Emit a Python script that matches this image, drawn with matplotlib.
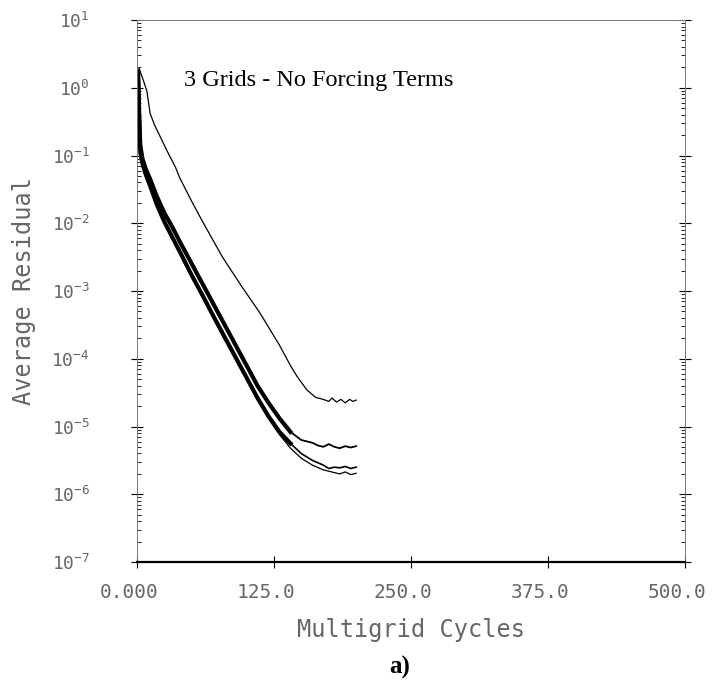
import numpy as np
import matplotlib.pyplot as plt
import matplotlib.transforms as mtransforms

plt.rcParams['mathtext.default'] = 'regular'

# cycles / log10(residual)
top_cycles = [2, 6, 9, 12, 16, 22, 28, 35, 39, 50, 60, 78, 95, 112, 130, 140, 146, 155, 163,
              170, 175, 178, 182, 186, 190, 194, 197, 200]
top_log10 = [0.28, 0.1, -0.05, -0.38, -0.55, -0.75, -0.95, -1.17, -1.33, -1.68, -1.98, -2.5,
             -2.92, -3.32, -3.8, -4.1, -4.26, -4.46, -4.57,
             -4.6, -4.63, -4.58, -4.64, -4.6, -4.65, -4.6, -4.63, -4.61]

b_cycles = [1, 2, 3, 5, 8, 12, 18, 25, 32, 40, 50, 60, 70, 80, 90, 100, 110, 120, 130, 140,
            150, 160, 165, 170, 175, 180, 185, 190, 195, 200]
b_log10 = [0.25, -0.4, -0.85, -1.05, -1.2, -1.35, -1.6, -1.85, -2.05, -2.3, -2.6, -2.9, -3.2,
           -3.5, -3.8, -4.1, -4.4, -4.65, -4.88, -5.08,
           -5.2, -5.24, -5.28, -5.3, -5.26, -5.3, -5.32, -5.29, -5.31, -5.29]

c_cycles = [1, 2, 3, 5, 8, 12, 18, 25, 32, 40, 50, 60, 70, 80, 90, 100, 110, 120, 130, 140,
            150, 160, 170, 175, 180, 185, 190, 195, 200]
c_log10 = [0.1, -0.5, -0.95, -1.12, -1.28, -1.45, -1.72, -1.98, -2.2, -2.45, -2.77, -3.07,
           -3.38, -3.68, -3.98, -4.28, -4.58, -4.85, -5.08, -5.25,
           -5.4, -5.5, -5.57, -5.62, -5.6, -5.61, -5.59, -5.62, -5.6]

d_cycles = [2, 4, 8, 15, 25, 40, 60, 80, 100, 120, 130, 140, 150, 160, 170, 180, 185, 190,
            195, 200]
d_log10 = [-0.6, -1.0, -1.3, -1.6, -2.0, -2.47, -3.1, -3.72, -4.3, -4.88, -5.12, -5.32,
           -5.47, -5.57, -5.64, -5.68, -5.7, -5.67, -5.71, -5.69]

y_ticks = [1e1, 1e0, 1e-1, 1e-2, 1e-3, 1e-4, 1e-5, 1e-6, 1e-7]
y_tick_labels = [r'$10^{1}$', r'$10^{0}$', r'$10^{-1}$', r'$10^{-2}$', r'$10^{-3}$',
                 r'$10^{-4}$', r'$10^{-5}$', r'$10^{-6}$', r'$10^{-7}$']
x_ticks = [0, 125, 250, 375, 500]
x_tick_labels = ['0.000', '125.0', '250.0', '375.0', '500.0']

plot_font = 'DejaVu Sans Mono'
grey = '#666666'

fig = plt.figure(figsize=(7.13, 6.87), dpi=100)
ax = fig.add_axes([137 / 713, 1 - 562 / 687, 548 / 713, 542 / 687])

# descent part drawn heavy (oscillating band), flat tail thin
split = 19
ax.plot(top_cycles, 10 ** np.array(top_log10), color='black', lw=0.9)
ax.plot(b_cycles[:split + 1], 10 ** np.array(b_log10[:split + 1]), color='black', lw=3.0)
ax.plot(b_cycles[split:], 10 ** np.array(b_log10[split:]), color='black', lw=1.3)
ax.plot(c_cycles[:split + 1], 10 ** np.array(c_log10[:split + 1]), color='black', lw=3.0)
ax.plot(c_cycles[split:], 10 ** np.array(c_log10[split:]), color='black', lw=1.2)
ax.plot(d_cycles, 10 ** np.array(d_log10), color='black', lw=0.9)

ax.set_yscale('log')
ax.set_xlim(0, 500)
ax.set_ylim(1e-7, 1e1)
ax.set_yticks(y_ticks)
ax.set_yticklabels(y_tick_labels, family=plot_font, fontsize=13, color=grey)
ax.set_xticks(x_ticks)
ax.set_xticklabels(x_tick_labels, family=plot_font, fontsize=14, color=grey)

ax.tick_params(axis='both', which='major', direction='inout', length=8, width=0.8,
               top=False, right=True)
ax.tick_params(axis='y', which='minor', direction='in', length=3, width=0.6,
               right=True)
ax.tick_params(axis='x', pad=11)
ax.tick_params(axis='y', pad=30)

# labels sit a little left of their ticks in the original
shift = mtransforms.ScaledTranslation(-0.08, 0, fig.dpi_scale_trans)
for lab in ax.get_xticklabels():
    lab.set_transform(lab.get_transform() + shift)

for side in ['top', 'left', 'right']:
    ax.spines[side].set_linewidth(0.7)
    ax.spines[side].set_color('#777777')
ax.spines['bottom'].set_linewidth(1.6)

ax.set_xlabel('Multigrid Cycles', family=plot_font, fontsize=17, color=grey, labelpad=12)
ax.set_ylabel('Average Residual', family=plot_font, fontsize=17, color=grey)
ax.yaxis.set_label_coords(-0.184, 0.5)

ax.text(0.085, 0.878, '3 Grids - No Forcing Terms', transform=ax.transAxes,
        family='Liberation Serif', fontsize=17.5, color='black')
fig.text(400 / 713, 1 - 667 / 687, 'a)', family='Liberation Serif', fontsize=18,
         fontweight='bold', ha='center', va='center')

fig.savefig('out.png', dpi=100)
